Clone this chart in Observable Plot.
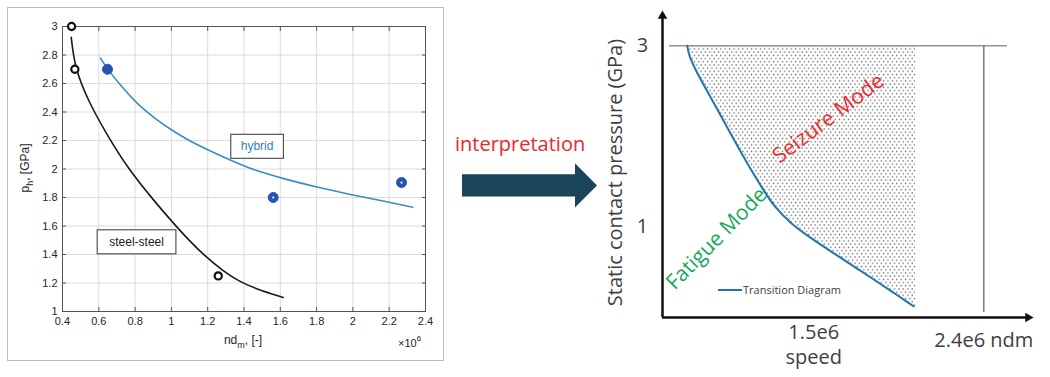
<!DOCTYPE html>
<html><head><meta charset="utf-8">
<script src="https://cdn.jsdelivr.net/npm/d3@7"></script>
<script src="https://cdn.jsdelivr.net/npm/@observablehq/plot@0.6"></script>
<style>
body{margin:0;background:#fff;}
#wrap{position:relative;width:1050px;height:377px;overflow:hidden;background:#fff;}
.panel{position:absolute;top:0;}
#leftBorder{position:absolute;left:7px;top:7px;width:435px;height:352px;border:1.5px solid #bdbdbd;}
#interp{position:absolute;left:455px;top:130px;font-family:"Open Sans",sans-serif;font-size:20px;color:#e8282c;white-space:nowrap;line-height:28px;}
#bigArrow{position:absolute;left:0;top:0;}
</style></head>
<body><div id="wrap"><div id="leftBorder"></div></div>
<script>
// ---------- Left panel data (experimental chart) ----------
const steelX = [0.45, 0.468, 1.258];
const steelY = [3.0, 2.70, 1.25];
const hybridX = [0.648, 1.561, 2.268];
const hybridY = [2.70, 1.80, 1.905];
const steelFitX = [0.448, 0.468, 0.545, 0.637, 0.756, 0.912, 1.004, 1.096, 1.188, 1.280, 1.371, 1.463, 1.616];
const steelFitY = [2.925, 2.707, 2.469, 2.258, 2.010, 1.765, 1.630, 1.500, 1.385, 1.290, 1.212, 1.160, 1.098];
const hybridFitX = [0.609, 0.646, 0.729, 0.820, 0.912, 1.004, 1.096, 1.188, 1.371, 1.463, 1.619, 1.803, 1.987, 2.170, 2.330];
const hybridFitY = [2.778, 2.703, 2.574, 2.446, 2.352, 2.270, 2.200, 2.142, 2.036, 1.989, 1.931, 1.872, 1.821, 1.774, 1.732];
const leftXTicks = [0.4, 0.6, 0.8, 1.0, 1.2, 1.4, 1.6, 1.8, 2.0, 2.2, 2.4];
const leftYTicks = [1.0, 1.2, 1.4, 1.6, 1.8, 2.0, 2.2, 2.4, 2.6, 2.8, 3.0];
const boxLabels = ["hybrid", "steel-steel"];
const boxX = [1.472, 0.808];
const boxY = [2.158, 1.488];

// ---------- Right panel data (interpretation) ----------
const transX = [0.831, 0.838, 0.866, 0.954, 1.042, 1.113, 1.166, 1.236, 1.289, 1.377, 1.466, 1.553, 1.642, 1.730, 1.818, 1.906, 2.030];
const transY = [3.0, 2.91, 2.763, 2.432, 2.10, 1.83, 1.64, 1.40, 1.23, 1.04, 0.905, 0.782, 0.660, 0.540, 0.420, 0.298, 0.121];
const seizureEdge = 2.04;
const limitPressure = 3;
const limitSpan = [0.737, 2.525];
const maxSpeed = 2.4;
const maxSpeedBottom = 0.055;
const rightYTicks = [1, 3];
const modeLabels = ["Seizure Mode", "Fatigue Mode"];
const modeX = [1.578, 0.986];
const modeY = [2.197, 0.872];
const modeAngle = [-37, -45.5];
const modeColor = ["#ec2a2e", "#16a85a"];
const axisOrigin = [0.7, 0];
const axisEnd = [2.634, 3.328];
const yTitle = "Static contact pressure (GPa)";
const yTitlePos = [0.451, 1.6];

const wrap = document.getElementById("wrap");
const fmt = d => String(Math.round(d * 10) / 10);

// ---------- Left plot ----------
const steel = steelX.map((x, i) => ({x, y: steelY[i]}));
const hybrid = hybridX.map((x, i) => ({x, y: hybridY[i]}));
const steelFit = steelFitX.map((x, i) => ({x, y: steelFitY[i]}));
const hybridFit = hybridFitX.map((x, i) => ({x, y: hybridFitY[i]}));
const boxes = boxLabels.map((t, i) => ({t, x: boxX[i], y: boxY[i]}));

const left = Plot.plot({
  width: 450, height: 377,
  marginLeft: 62, marginRight: 25, marginTop: 26, marginBottom: 66,
  style: {fontFamily: "'Liberation Sans', Arial, sans-serif", fontSize: "11px", color: "#262626", background: "transparent", overflow: "visible"},
  x: {domain: [0.4, 2.4]},
  y: {domain: [1, 3]},
  marks: [
    Plot.gridX(leftXTicks, {stroke: "#dcdcdc", strokeOpacity: 1}),
    Plot.gridY(leftYTicks, {stroke: "#dcdcdc", strokeOpacity: 1}),
    Plot.axisX(leftXTicks, {anchor: "bottom", tickSize: 0, tickPadding: 6, tickFormat: fmt, label: null}),
    Plot.axisY(leftYTicks, {anchor: "left", tickSize: 0, tickPadding: 5, tickFormat: fmt, label: null}),
    Plot.axisX(leftXTicks, {anchor: "bottom", tickSize: -4, fill: "none", stroke: "#555", label: null}),
    Plot.axisX(leftXTicks, {anchor: "top", tickSize: -4, fill: "none", stroke: "#555", label: null}),
    Plot.axisY(leftYTicks, {anchor: "left", tickSize: -4, fill: "none", stroke: "#555", label: null}),
    Plot.axisY(leftYTicks, {anchor: "right", tickSize: -4, fill: "none", stroke: "#555", label: null}),
    Plot.frame({stroke: "#555", strokeWidth: 1}),
    Plot.line(steelFit, {x: "x", y: "y", stroke: "#1a1a1a", strokeWidth: 1.6, curve: "basis"}),
    Plot.line(hybridFit, {x: "x", y: "y", stroke: "#3a8cc6", strokeWidth: 1.6, curve: "basis"}),
    Plot.dot(steel, {x: "x", y: "y", r: 3.6, stroke: "#111", strokeWidth: 2.2, fill: "white"}),
    Plot.dot(hybrid, {x: "x", y: "y", r: 5, fill: "#2a52b0", stroke: "#2a52b0", strokeWidth: 1}),
    Plot.dot(hybrid.slice(1), {x: "x", y: "y", r: 1.1, fill: "white"}),
    Plot.text(boxes, {x: "x", y: "y", text: "t", fontSize: 12, className: "boxlbl",
      fill: (d, i) => i === 0 ? "#2f7fc0" : "#1a1a1a"})
  ]
});
left.classList.add("panel");
left.style.left = "0px";
wrap.appendChild(left);

// boxes around annotation text (computed from the rendered text extents)
{
  const svgRect = left.getBoundingClientRect();
  const grp = left.querySelector(".boxlbl");
  left.querySelectorAll(".boxlbl text").forEach(t => {
    const b = t.getBoundingClientRect();
    const padX = t.textContent === "hybrid" ? 10 : 12;
    const r = document.createElementNS("http://www.w3.org/2000/svg", "rect");
    r.setAttribute("x", b.left - svgRect.left - padX);
    r.setAttribute("y", b.top - svgRect.top - 5);
    r.setAttribute("width", b.width + 2 * padX);
    r.setAttribute("height", b.height + 10);
    r.setAttribute("fill", "white");
    r.setAttribute("stroke", "#555");
    r.setAttribute("stroke-width", 1.2);
    left.insertBefore(r, grp);
  });
}

const lsvg = d3.select(left);
const xl = lsvg.append("text").attr("x", 243).attr("y", 344).attr("text-anchor", "middle")
  .attr("font-size", 12).attr("fill", "#262626");
xl.append("tspan").text("nd");
xl.append("tspan").attr("font-size", 9).attr("dy", 4).text("m");
xl.append("tspan").attr("dy", -4).text(", [-]");
const ex = lsvg.append("text").attr("x", 398).attr("y", 347).attr("text-anchor", "start").attr("font-size", 11).attr("fill", "#262626");
ex.append("tspan").text("\u00d710");
ex.append("tspan").attr("font-size", 8).attr("dy", -6).text("6");
const yl = lsvg.append("text").attr("transform", "translate(29,168) rotate(-90)").attr("text-anchor", "middle")
  .attr("font-size", 12).attr("fill", "#262626");
yl.append("tspan").text("p");
yl.append("tspan").attr("font-size", 9).attr("dy", 4).text("h");
yl.append("tspan").attr("dy", -4).text(", [GPa]");

// ---------- Middle arrow ----------
const arrowSvg = d3.select(wrap).append("svg").attr("id", "bigArrow").attr("width", 1050).attr("height", 377)
  .style("pointer-events", "none");
arrowSvg.append("polygon")
  .attr("points", "462,174.3 575,174.3 575,163.3 597,185.5 575,207.5 575,196.5 462,196.5")
  .attr("fill", "#1b4558");
const interp = document.createElement("div");
interp.id = "interp";
interp.textContent = "interpretation";
wrap.appendChild(interp);

// ---------- Right plot ----------
const trans = transX.map((x, i) => ({x, y: transY[i]}));
const modes = modeLabels.map((t, i) => ({t, x: modeX[i], y: modeY[i], a: modeAngle[i], c: modeColor[i]}));

const right = Plot.plot({
  width: 460, height: 377,
  marginLeft: 72, marginRight: 10, marginTop: 9, marginBottom: 60,
  style: {fontFamily: "'Open Sans', sans-serif", background: "transparent", overflow: "visible"},
  x: {domain: [0.7, 2.7], axis: null},
  y: {domain: [0, 3.4], axis: null},
  marks: [
    Plot.areaX(trans, {x1: "x", x2: seizureEdge, y: "y", fill: "url(#dots)", curve: "basis"}),
    Plot.ruleY([limitPressure], {x1: limitSpan[0], x2: limitSpan[1], stroke: "#8a98a2", strokeWidth: 1.5}),
    Plot.ruleX([maxSpeed], {y1: maxSpeedBottom, y2: limitPressure, stroke: "#6f7f89", strokeWidth: 1.5}),
    Plot.line(trans, {x: "x", y: "y", stroke: "#1f76b0", strokeWidth: 2, curve: "basis"}),
    Plot.ruleX([axisOrigin[0]], {y1: axisOrigin[1], y2: axisEnd[1], stroke: "#111", strokeWidth: 2.5}),
    Plot.ruleY([axisOrigin[1]], {x1: axisOrigin[0], x2: axisEnd[0], stroke: "#111", strokeWidth: 2.5}),
    Plot.dot([[axisOrigin[0], axisEnd[1], 0], [axisEnd[0], axisOrigin[1], 90]],
      {x: d => d[0], y: d => d[1], rotate: d => d[2], symbol: "triangle", r: 3.6, fill: "#111"}),
    Plot.text(rightYTicks, {y: d => d, frameAnchor: "left", dx: -20, text: d => String(d), fontSize: 20, fill: "#404040", textAnchor: "middle"}),
    Plot.text(["1.5e6"], {x: 1.5, y: 0, dy: 15, text: d => d, fontSize: 20, fill: "#404040"}),
    Plot.text(["speed"], {x: 1.5, y: 0, dy: 40, text: d => d, fontSize: 20, fill: "#404040"}),
    Plot.text(["2.4e6 ndm"], {x: maxSpeed, y: 0, dy: 23, text: d => d, fontSize: 20, fill: "#404040"}),
    Plot.text([yTitle], {x: yTitlePos[0], y: yTitlePos[1], rotate: -90, text: d => d, fontSize: 20, fill: "#404040"}),
    Plot.text(modes, {x: "x", y: "y", text: "t", rotate: "a", fill: "c", fontSize: 21})
  ]
});
right.classList.add("panel");
right.style.left = "590px";
wrap.appendChild(right);

const rsvg = d3.select(right);
const defs = rsvg.insert("defs", ":first-child");
const pat = defs.append("pattern").attr("id", "dots").attr("width", 4.4).attr("height", 6.4).attr("patternUnits", "userSpaceOnUse");
pat.append("rect").attr("width", 4.4).attr("height", 6.4).attr("fill", "white");
pat.append("circle").attr("cx", 1).attr("cy", 1).attr("r", 0.75).attr("fill", "#555");
pat.append("circle").attr("cx", 3.2).attr("cy", 4.2).attr("r", 0.75).attr("fill", "#555");

// legend
rsvg.append("line").attr("x1", 128).attr("x2", 152).attr("y1", 290).attr("y2", 290)
  .attr("stroke", "#1f76b0").attr("stroke-width", 2);
rsvg.append("text").attr("x", 153).attr("y", 290).attr("dy", "0.35em").attr("text-anchor", "start").attr("font-size", 11)
  .attr("fill", "#404040").text("Transition Diagram");
</script></body></html>
